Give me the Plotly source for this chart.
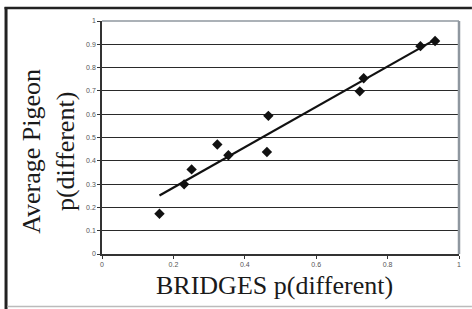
import numpy as np
import plotly.graph_objects as go

W, H = 472, 309
L, R, T, B = 102, 11, 21, 55

bridges = [0.161, 0.230, 0.251, 0.323, 0.354, 0.462, 0.466, 0.722, 0.733, 0.892, 0.933]
pigeon = [0.173, 0.299, 0.363, 0.470, 0.424, 0.438, 0.593, 0.698, 0.754, 0.892, 0.914]
x_ticks = [0, 0.2, 0.4, 0.6, 0.8, 1]
x_tick_labels = ["0", "0.2", "0.4", "0.6", "0.8", "1"]
y_ticks = [0, 0.1, 0.2, 0.3, 0.4, 0.5, 0.6, 0.7, 0.8, 0.9, 1]
y_tick_labels = ["0", "0.1", "0.2", "0.3", "0.4", "0.5", "0.6", "0.7", "0.8", "0.9", "1"]
x_title = "BRIDGES p(different)"
y_title = "Average Pigeon<br>p(different)"

slope, intercept = np.polyfit(bridges, pigeon, 1)
trend_x = [min(bridges), max(bridges)]
trend_y = [slope * v + intercept for v in trend_x]

pw = W - L - R
ph = H - T - B

def px(xp):
    return (xp - L) / pw

def py(yp):
    return (H - B - yp) / ph

fig = go.Figure()
fig.add_trace(go.Scatter(x=trend_x, y=trend_y, mode="lines",
                         line=dict(color="#111111", width=2.2), showlegend=False))
fig.add_trace(go.Scatter(x=bridges, y=pigeon, mode="markers",
                         marker=dict(symbol="diamond", size=8, color="#111111"),
                         showlegend=False))

tickfont = dict(family="Liberation Sans, Arial, sans-serif", size=7, color="#555555")
fig.update_xaxes(range=[0, 1], tickvals=x_ticks, ticktext=x_tick_labels,
                 showgrid=False, zeroline=False, showline=True,
                 linecolor="#333333", linewidth=2, ticks="outside", ticklen=3,
                 tickcolor="#333333", tickwidth=1, tickfont=tickfont, fixedrange=True)
fig.update_yaxes(range=[0, 1], tickvals=y_ticks, ticktext=y_tick_labels,
                 showgrid=True, gridcolor="#2a2a2a", gridwidth=1, zeroline=False,
                 showline=True, linecolor="#333333", linewidth=1.5, ticks="outside",
                 ticklen=3, tickcolor="#333333", tickwidth=1, tickfont=tickfont,
                 fixedrange=True)

shapes = [
    dict(type="line", xref="paper", yref="paper", x0=1, x1=1, y0=0, y1=1,
         line=dict(color="#8f979f", width=2.5)),
    dict(type="line", xref="paper", yref="paper", x0=0, x1=1, y0=1, y1=1,
         line=dict(color="#8f979f", width=1.5)),
    dict(type="line", xref="paper", yref="paper", x0=px(4), x1=px(W + 2), y0=py(8), y1=py(8),
         line=dict(color="#222222", width=2.5)),
    dict(type="line", xref="paper", yref="paper", x0=px(5.5), x1=px(5.5), y0=py(7), y1=py(H + 2),
         line=dict(color="#222222", width=3)),
    dict(type="line", xref="paper", yref="paper", x0=px(7), x1=px(W + 2), y0=py(306.5), y1=py(306.5),
         line=dict(color="#bbbbbb", width=1.5)),
]

titlefont = dict(family="Liberation Serif, Times New Roman, serif", size=26, color="#1a1a1a")
annotations = [
    dict(text=x_title, xref="paper", yref="paper", x=px(275), y=py(285),
         xanchor="center", yanchor="middle", showarrow=False, font=titlefont),
    dict(text=y_title, xref="paper", yref="paper", x=px(47.5), y=py(151),
         xanchor="center", yanchor="middle", showarrow=False, font=titlefont,
         textangle=-90),
]

fig.update_layout(width=W, height=H, margin=dict(l=L, r=R, t=T, b=B),
                  paper_bgcolor="white", plot_bgcolor="white",
                  shapes=shapes, annotations=annotations, showlegend=False)

fig.write_html("out.html", config={"displayModeBar": False},
               post_script="document.body.style.margin='0';document.body.style.overflow='hidden';")
